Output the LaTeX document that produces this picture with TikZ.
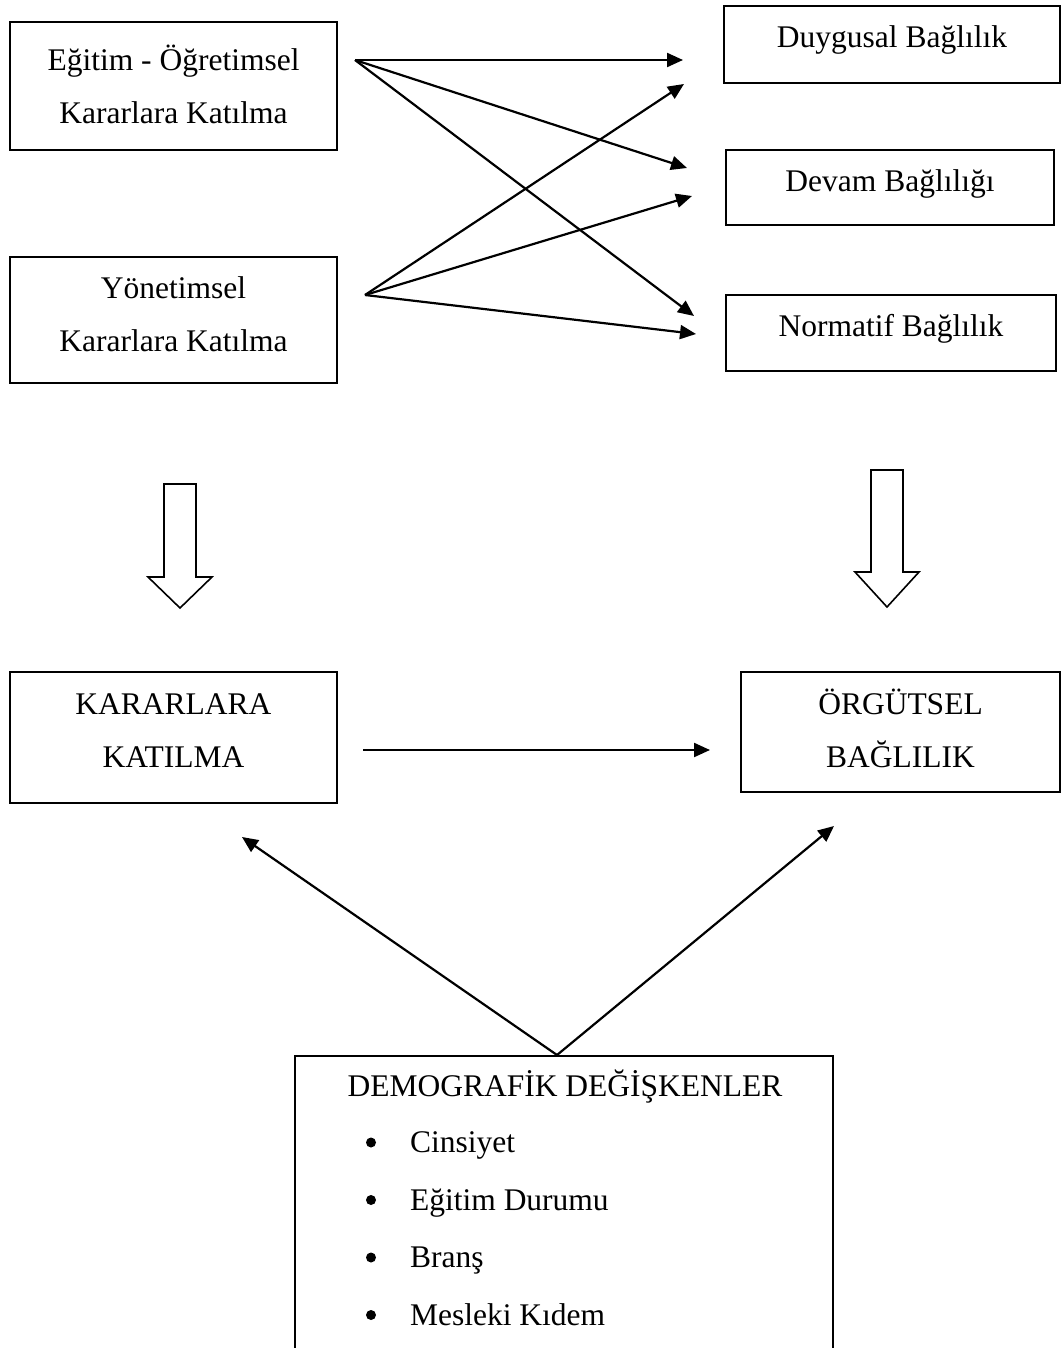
\documentclass[tikz,border=0pt]{standalone}
\usepackage{fontspec}
\setmainfont{Liberation Serif}
\usetikzlibrary{arrows.meta}

\begin{document}
\begin{tikzpicture}[x=1pt,y=-1pt,line width=2.2pt,
  box/.style={draw=black,rectangle,inner sep=0pt,align=center,font=\fontsize{31.5}{53}\selectfont},
  txt/.style={inner sep=0pt,font=\fontsize{31.5}{53}\selectfont},
  link/.style={-{Triangle[length=16pt,width=14pt]}}]
\useasboundingbox (0,0) rectangle (1062,1348);
\clip (0,0) rectangle (1062,1348);
% boxes
\node [box,minimum width=327,minimum height=128,text depth=4pt] (edu) at (173.5,86) {Eğitim - Öğretimsel\\Kararlara Katılma};
\node [box,minimum width=327,minimum height=126,text depth=12pt] (adm) at (173.5,320) {Yönetimsel\\Kararlara Katılma};
\node [box,minimum width=336,minimum height=77,text depth=2pt] (duy) at (892,44.5) {\raisebox{13pt}{Duygusal Bağlılık}};
\node [box,minimum width=328,minimum height=75] (dev) at (890,187.5) {\raisebox{14pt}{Devam Bağlılığı}};
\node [box,minimum width=330,minimum height=76] (nor) at (891,333) {\raisebox{15pt}{Normatif Bağlılık}};
\node [box,minimum width=327,minimum height=131,text depth=14pt] (kat) at (173.5,737.5) {KARARLARA\\KATILMA};
\node [box,minimum width=319,minimum height=120,text depth=8pt] (org) at (900.5,732) {ÖRGÜTSEL\\BAĞLILIK};
\node [box,minimum width=538,minimum height=340,anchor=north] (demo) at (564,1055) {};
% demographic variables
\node [txt,anchor=base] (demoTitle) at (565,1096) {DEMOGRAFİK DEĞİŞKENLER};
\foreach \name [count=\i] in {Cinsiyet,Eğitim Durumu,Branş,Mesleki Kıdem} {
  \fill [black] (371,{1085+57.5*\i}) circle (5);
  \node [txt,anchor=base west] (item\i) at (409,{1095+57.5*\i}) {\name};
}
% connector ends
\coordinate (eduOut) at (355,60);
\coordinate (admOut) at (365,295);
\coordinate (duyA) at (683,60);
\coordinate (duyB) at (684,84);
\coordinate (devA) at (687,168);
\coordinate (devB) at (692,196);
\coordinate (norA) at (694,316);
\coordinate (norB) at (696,334);
\coordinate (katOut) at (363,750);
\coordinate (orgIn) at (710,750);
\coordinate (demoTop) at (557,1055);
\coordinate (katIn) at (242,837);
\coordinate (orgUp) at (834,826);
% connectors
\draw [black,link] (eduOut) -- (duyA);
\draw [black,link] (eduOut) -- (devA);
\draw [black,link] (eduOut) -- (norA);
\draw [black,link] (admOut) -- (duyB);
\draw [black,link] (admOut) -- (devB);
\draw [black,link] (admOut) -- (norB);
\draw [black,link] (katOut) -- (orgIn);
\draw [black,link] (demoTop) -- (katIn);
\draw [black,link] (demoTop) -- (orgUp);
% hollow arrows
\draw [black,line width=1.6pt,line join=miter] (164,484) -- (196,484) -- (196,577) -- (212,577) -- (180,608) -- (148,577) -- (164,577) -- cycle;
\draw [black,line width=1.6pt,line join=miter] (871,470) -- (903,470) -- (903,572) -- (919,572) -- (887,607) -- (855,572) -- (871,572) -- cycle;
\end{tikzpicture}
\end{document}
